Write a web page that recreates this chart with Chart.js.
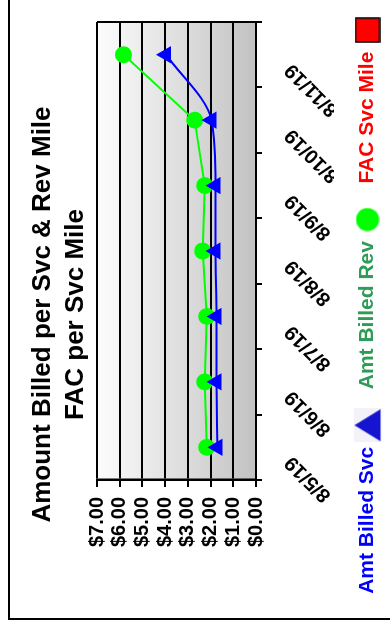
<!DOCTYPE html>
<html>
<head>
<meta charset="utf-8">
<script src="https://cdn.jsdelivr.net/npm/chart.js@4.4.1/dist/chart.umd.min.js"></script>
<style>
  html, body { margin: 0; padding: 0; background: #fff; overflow: hidden; }
  /* chart is drawn landscape, then turned to portrait */
  #wrap { position: absolute; left: 0; top: 0; width: 629px; height: 390px;
          transform-origin: 0 0; transform: translateY(629px) rotate(-90deg); }
  #frame { position: absolute; left: 9px; top: 8px; width: 640px; height: 400px;
           border-left: 2px solid #000; border-top: 2px solid #000; }
  #c { position: absolute; left: 0; top: 0; }
</style>
</head>
<body>
<div id="wrap">
  <div id="frame"></div>
  <canvas id="c" width="629" height="390"></canvas>
</div>
<script>
const dates = ['8/5/19', '8/6/19', '8/7/19', '8/8/19', '8/9/19', '8/10/19', '8/11/19'];
const amtBilledSvc = [1.70, 1.74, 1.74, 1.78, 1.78, 1.96, 3.96];
const amtBilledRev = [2.17, 2.26, 2.17, 2.35, 2.26, 2.70, 5.83];
const facSvcMile = [null, null, null, null, null, null, null];
const seriesNames = ['Amt Billed Svc', 'Amt Billed Rev', 'FAC Svc Mile'];

const FONT = '"Liberation Sans", Arial, sans-serif';
const COLORS = {
    svc: '#0000ff',
    rev: '#00ff00',
    revText: '#2e9b57',
    fac: '#ff0000'
};

// legend markers
function marker(w, h, draw) {
    const c = document.createElement('canvas');
    c.width = w; c.height = h;
    draw(c.getContext('2d'));
    return c;
}
const triMarker = marker(34, 28, g => {
    g.fillStyle = '#f2f2f8';
    g.fillRect(0, 0, 34, 28);
    g.fillStyle = '#1515d0';
    g.beginPath();
    g.moveTo(17, 1); g.lineTo(33, 27); g.lineTo(1, 27);
    g.closePath(); g.fill();
});
const dotMarker = marker(24, 24, g => {
    g.fillStyle = COLORS.rev;
    g.beginPath(); g.arc(12, 12, 11.5, 0, Math.PI * 2); g.fill();
});
const sqMarker = marker(26, 26, g => {
    g.fillStyle = COLORS.fac;
    g.fillRect(1, 1, 24, 24);
    g.strokeStyle = '#000'; g.lineWidth = 1.5;
    g.strokeRect(1, 1, 24, 24);
});
const legendMarkers = [triMarker, dotMarker, sqMarker];
const legendColors = [COLORS.svc, COLORS.revText, COLORS.fac];

// grey gradient plot background + right edge
const plotBg = {
    id: 'plotBg',
    beforeDraw(chart) {
        const { ctx, chartArea: a } = chart;
        const g = ctx.createLinearGradient(0, a.top, 0, a.bottom);
        g.addColorStop(0, '#fdfdfd');
        g.addColorStop(1, '#c2c2c2');
        ctx.save();
        ctx.fillStyle = g;
        ctx.fillRect(a.left, a.top, a.right - a.left, a.bottom - a.top);
        ctx.strokeStyle = '#000';
        ctx.lineWidth = 2;
        ctx.beginPath();
        ctx.moveTo(a.right, a.top);
        ctx.lineTo(a.right, a.bottom);
        ctx.stroke();
        ctx.restore();
    }
};

// nudge the legend to where the original sits
const legendShift = {
    id: 'legendShift',
    afterLayout(chart) {
        const lg = chart.legend;
        if (!lg) return;
        lg.left += 8; lg.right += 8;
        lg.top -= 2; lg.bottom -= 2;
    }
};

Chart.defaults.font.family = FONT;
Chart.defaults.color = '#000';

new Chart(document.getElementById('c'), {
    type: 'line',
    data: {
        labels: dates,
        datasets: [
            {
                label: seriesNames[0],
                data: amtBilledSvc,
                borderColor: COLORS.svc,
                backgroundColor: COLORS.svc,
                borderWidth: 2,
                pointStyle: 'triangle',
                pointRadius: 8,
                cubicInterpolationMode: 'monotone'
            },
            {
                label: seriesNames[1],
                data: amtBilledRev,
                borderColor: COLORS.rev,
                backgroundColor: COLORS.rev,
                borderWidth: 2,
                pointStyle: 'circle',
                pointRadius: 7.5,
                tension: 0
            },
            {
                label: seriesNames[2],
                data: facSvcMile,
                borderColor: COLORS.fac,
                backgroundColor: COLORS.fac,
                pointStyle: 'rect'
            }
        ]
    },
    options: {
        responsive: false,
        animation: false,
        layout: { padding: 0 },
        plugins: {
            title: {
                display: true,
                text: ['Amount Billed per Svc & Rev Mile', 'FAC per Svc Mile'],
                color: '#000',
                font: { size: 26, weight: 'bold', lineHeight: 1.27 },
                padding: { top: 26, bottom: 5 }
            },
            legend: {
                position: 'bottom',
                rtl: true,
                reverse: true,
                labels: {
                    usePointStyle: true,
                    pointStyleWidth: 22,
                    boxHeight: 21,
                    padding: 25,
                    font: { size: 21, weight: 'bold' },
                    generateLabels(chart) {
                        const items = Chart.defaults.plugins.legend.labels.generateLabels(chart);
                        items.forEach((it, i) => {
                            it.pointStyle = legendMarkers[i];
                            it.fontColor = legendColors[i];
                        });
                        return items;
                    }
                }
            },
            tooltip: { enabled: false }
        },
        scales: {
            x: {
                offset: true,
                grid: { offset: true, drawOnChartArea: false, color: '#000', lineWidth: 2, tickLength: 6 },
                border: { color: '#000', width: 2 },
                ticks: {
                    autoSkip: false,
                    minRotation: 45,
                    maxRotation: 45,
                    padding: 18,
                    labelOffset: -12,
                    font: { size: 20, weight: 'bold' }
                },
                afterFit(s) { s.height = 78; }
            },
            y: {
                min: 0,
                max: 7,
                ticks: {
                    stepSize: 1,
                    autoSkip: false,
                    padding: 10,
                    font: { size: 20, weight: 'bold' },
                    callback: v => '$' + v.toFixed(2)
                },
                grid: { color: '#000', lineWidth: 2, tickLength: 7 },
                border: { color: '#000', width: 2.5 },
                afterFit(s) { s.width = 149; }
            },
            // empty strip that keeps the plot off the right edge
            yPad: {
                position: 'right',
                grid: { display: false },
                border: { display: false },
                ticks: { display: false },
                afterFit(s) { s.width = 22; }
            }
        }
    },
    plugins: [plotBg, legendShift]
});
</script>
</body>
</html>
